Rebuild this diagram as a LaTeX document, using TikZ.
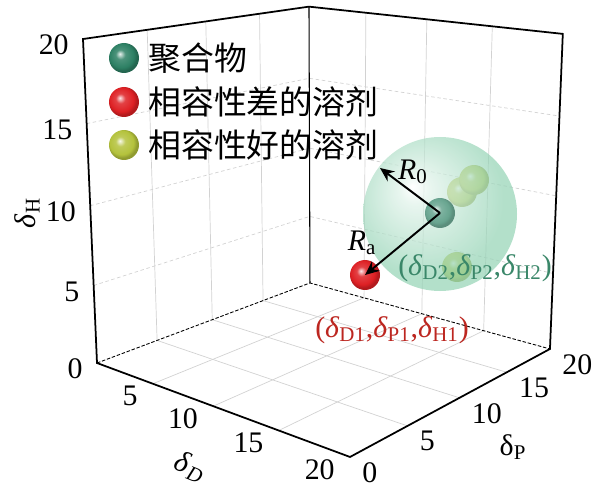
\documentclass[tikz,border=0pt]{standalone}
\usepackage{fontspec}
\setmainfont{Liberation Serif}
\newfontfamily\cjk{Noto Sans CJK SC}
\usetikzlibrary{arrows.meta}

\definecolor{polygreen}{RGB}{45,128,100}
\definecolor{badred}{RGB}{222,32,36}
\definecolor{goodyellow}{RGB}{180,194,60}
\definecolor{hspgreen}{RGB}{150,212,182}
\definecolor{lblgreen}{RGB}{58,135,105}
\definecolor{lblred}{RGB}{188,38,32}
\colorlet{ballc}{black}
\pgfdeclareradialshading{hspball}{\pgfqpoint{-9bp}{9bp}}{color(0bp)=(white); color(5bp)=(hspgreen!30!white); color(25bp)=(hspgreen); color(50bp)=(hspgreen)}
\pgfdeclareradialshading[ballc]{softball}{\pgfqpoint{-7bp}{7bp}}{color(0bp)=(ballc!10!white); color(8bp)=(ballc!85!white); color(20bp)=(ballc); color(25bp)=(ballc!80!black); color(50bp)=(ballc!80!black)}

% point of the (delta_D, delta_P, delta_H) box, seen in perspective
\newcommand{\projpt}[4]{\coordinate (#1) at ({pu(#2,#3,#4)},{pv(#2,#3,#4)});}

\begin{document}
\begin{tikzpicture}[x=0.02cm,y=-0.02cm,
  declare function={pw(\a,\b,\c)=1-0.00749*\a+0.00895*\b-0.002835*\c;
    pu(\a,\b,\c)=(10.0285*\a+13.425*\b-0.9355*\c+97)/pw(\a,\b,\c);
    pv(\a,\b,\c)=(1.275*\a-1.467*\b-16.31*\c+363)/pw(\a,\b,\c);},
  gridline/.style={gray!35,line width=0.4pt},
  griddash/.style={gridline,dash pattern=on 2pt off 1.5pt},
  boxline/.style={line width=1pt},
  tick/.style={font=\fontsize{17}{17}\selectfont,inner sep=0pt},
  legtext/.style={font=\cjk\fontsize{18.7}{18.7}\selectfont,anchor=west,inner sep=0pt},
  sphere/.style={circle,minimum size=0.6cm,inner sep=0pt,
    /utils/exec={\colorlet{ballc}{#1}},shading=softball},
  coordlbl/.style={font=\fontsize{17}{17}\selectfont,inner sep=0pt},
  radius/.style={-{Stealth[length=8pt,width=7pt]},line width=1.1pt}]
\useasboundingbox (0,0) rectangle (597,489);

% box corners
\projpt{o}{0}{0}{0}
\projpt{dd}{20}{0}{0}
\projpt{dp}{20}{20}{0}
\projpt{pp}{0}{20}{0}
\projpt{hh}{0}{0}{20}
\projpt{ph}{0}{20}{20}
\projpt{dph}{20}{20}{20}

% grid on floor and back walls
\foreach \t in {5,10,15}{
  \projpt{a}{\t}{0}{0} \projpt{b}{\t}{20}{0} \projpt{c}{\t}{20}{20}
  \draw[gridline] (a) -- (b) -- (c);
  \projpt{a}{0}{\t}{0} \projpt{b}{20}{\t}{0} \projpt{c}{0}{\t}{20}
  \draw[gridline] (b) -- (a) -- (c);
  \projpt{a}{0}{0}{\t} \projpt{b}{0}{20}{\t} \projpt{c}{20}{20}{\t}
  \draw[griddash] (a) -- (b) -- (c);
}

% box edges
\draw[dash pattern=on 2pt off 1pt,line width=0.5pt] (o) -- (pp) -- (dp);
\draw[line width=0.6pt] (pp) -- (ph);
\draw[boxline] (hh) -- (o) -- (dd) -- (dp) -- (dph) -- (ph) -- cycle;

% ticks
\foreach \t in {0,5,10,15,20}{
  \projpt{th}{0}{0}{\t}
  \node[tick,anchor=east,xshift=-0.28cm,yshift=-0.12cm] (h\t) at (th) {\t};
  \projpt{tp}{20}{\t}{0}
  \node[tick,anchor=north west,xshift=0.24cm,yshift=-0.1cm] (p\t) at (tp) {\t};
}
\foreach \t in {5,10,15,20}{
  \projpt{td}{\t}{0}{0}
  \node[tick,anchor=north east,xshift=-0.3cm,yshift=-0.04cm] (d\t) at (td) {\t};
}
\node[tick,rotate=90] (hlabel) at (27,213) {\textit{δ}\textsubscript{H}};
\node[tick,rotate=-22] (dlabel) at (190,467) {\textit{δ\kern1pt}\textsubscript{\textit{D}}};
\node[tick] (plabel) at (513,447) {δ\textsubscript{P}};

% legend
\node[sphere=polygreen] (legpoly) at (124,58) {};
\node[sphere=badred] (legbad) at (124,102) {};
\node[sphere=goodyellow] (leggood) at (124,145) {};
\node[legtext] (txtpoly) at (148,58) {聚合物};
\node[legtext] (txtbad) at (148,102) {相容性差的溶剂};
\node[legtext] (txtgood) at (148,145) {相容性好的溶剂};

% good solvents inside the solubility sphere
\node[sphere=goodyellow] (good1) at (462,192) {};
\node[sphere=goodyellow] (good2) at (474,180) {};
\node[sphere=goodyellow] (good3) at (457,267) {};
\shade[shading=hspball,fill opacity=0.72] (440,214) circle (77);
\node[sphere=polygreen!85!white,opacity=0.8] (poly) at (440,213) {};
\node[sphere=badred] (bad) at (365,275) {};

% radii
\coordinate (r0tip) at (380,168);
\draw[radius] (poly.center) -- (r0tip);
\draw[radius] (poly.center) -- (bad.center);
\node[coordlbl] (r0) at (413,172) {\textit{R}\textsubscript{0}};
\node[coordlbl] (ra) at (362,243) {\textit{R}\textsubscript{a}};

% coordinates of the two points
\node[coordlbl,text=lblgreen] (c2) at (475,268) {(\textit{δ}\textsubscript{D2},\textit{δ}\textsubscript{P2},\textit{δ}\textsubscript{H2})};
\node[coordlbl,text=lblred] (c1) at (392,330) {(\textit{δ}\textsubscript{D1},\textit{δ}\textsubscript{P1},\textit{δ}\textsubscript{H1})};
\end{tikzpicture}
\end{document}
